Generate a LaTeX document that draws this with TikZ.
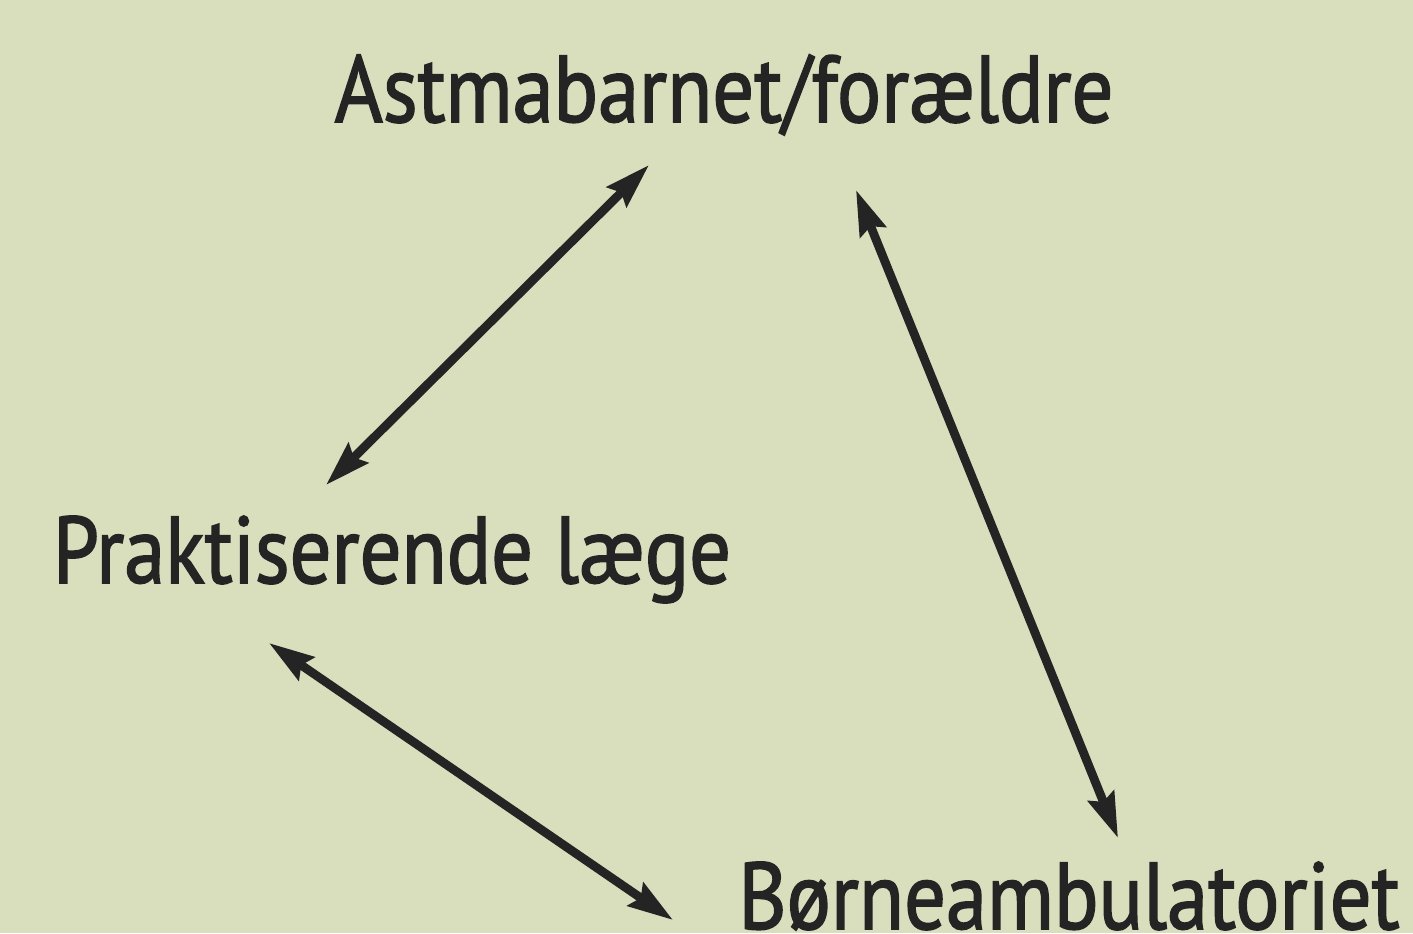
\documentclass[tikz,border=0pt]{standalone}
\usepackage{fontspec}
\newfontfamily\lblfont[FakeStretch=0.87,FakeBold=1.6]{PT Sans}
\usetikzlibrary{arrows.meta}
\definecolor{bgcol}{HTML}{D9DFBC}
\definecolor{inkcol}{HTML}{242424}
\tikzset{
  lbl/.style={anchor=base, inner sep=0pt, text=inkcol,
    font=\lblfont\fontsize{54}{60}\selectfont},
  link/.style={draw=inkcol, line width=5pt,
    {Stealth[length=0.9cm,width=0.55cm,inset=0.12cm]}-{Stealth[length=0.9cm,width=0.55cm,inset=0.12cm]}}
}
\begin{document}
\begin{tikzpicture}[x=0.02cm,y=-0.02cm]
  % background panel
  \fill[bgcol] (0,0) rectangle (1413,933);
  \useasboundingbox (0,0) rectangle (1413,933);
  % the three parties
  \node[lbl] (C) at (724,122) {Astmabarnet/forældre};
  \node[lbl] (G) at (392,583) {Praktiserende læge};
  \node[lbl] (H) at (1069,929) {Børneambulatoriet};
  % arrow ends
  \coordinate (C1) at (649,165);
  \coordinate (G1) at (326,485);
  \coordinate (G2) at (269,643);
  \coordinate (H1) at (673,920);
  \coordinate (C2) at (856,190);
  \coordinate (H2) at (1118,838);
  % links
  \draw[link] (G1) -- (C1);
  \draw[link] (G2) -- (H1);
  \draw[link] (C2) -- (H2);
\end{tikzpicture}
\end{document}
